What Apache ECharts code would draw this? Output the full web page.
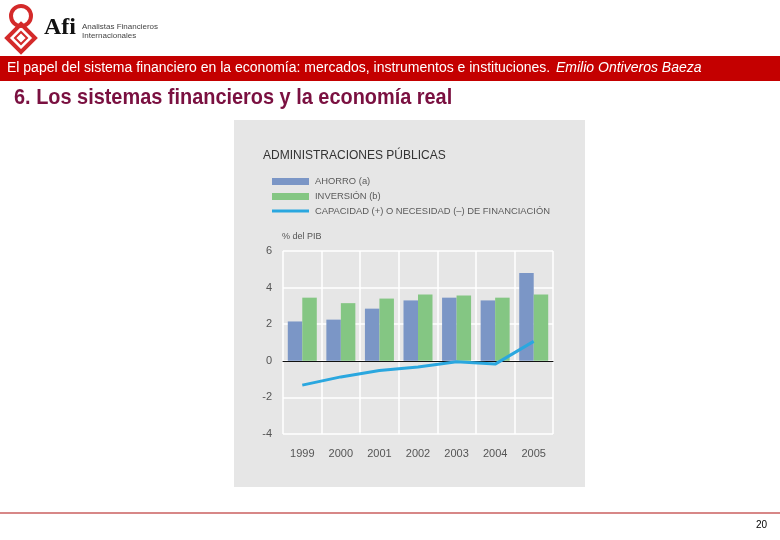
<!DOCTYPE html>
<html>
<head>
<meta charset="utf-8">
<script src="https://cdn.jsdelivr.net/npm/echarts@6/dist/echarts.min.js"></script>
<style>html,body{margin:0;padding:0;background:#fff}#c{width:780px;height:540px}</style>
</head>
<body>
<div id="c"></div>
<script>
const years = ['1999','2000','2001','2002','2003','2004','2005'];
const ahorro = [2.15, 2.25, 2.85, 3.3, 3.45, 3.3, 4.8];
const inversion = [3.45, 3.15, 3.4, 3.62, 3.57, 3.45, 3.62];
const capacidad = [-1.33, -0.88, -0.53, -0.34, -0.05, -0.18, 1.06];
const yTicks = [-4, -2, 0, 2, 4, 6];

const chart = echarts.init(document.getElementById('c'));
const BLUE = '#7b96c6', GREEN = '#84c683', LINE = '#2aa7df';
const legText = {fontFamily: 'Liberation Sans', fontSize: 9.4, color: '#5a5a5a', lineHeight: 11, padding: [0,0,0,1]};
const option = {
  animation: false,
  backgroundColor: '#ffffff',
  title: {
    text: 'ADMINISTRACIONES PÚBLICAS', left: 258, top: 145,
    textStyle: {fontFamily: 'Liberation Sans', fontSize: 12, fontWeight: 'normal', color: '#333'}
  },
  legend: [{
    orient: 'vertical', left: 272, top: 176, padding: 0, itemWidth: 37, itemHeight: 7, itemGap: 4,
    data: [{name: 'AHORRO (a)', icon: 'rect'}, {name: 'INVERSIÓN (b)', icon: 'rect'}],
    textStyle: legText
  }, {
    orient: 'vertical', left: 272, top: 205.5, padding: 0, itemWidth: 37, itemHeight: 3,
    data: [{name: 'CAPACIDAD (+) O NECESIDAD (–) DE FINANCIACIÓN', icon: 'rect'}],
    textStyle: legText
  }],
  grid: {left: 283, right: 227, top: 251, bottom: 106, containLabel: false},
  xAxis: {
    type: 'category', data: years,
    axisLine: {onZero: true, lineStyle: {color: '#111', width: 1}},
    axisTick: {show: false},
    axisLabel: {fontFamily: 'Liberation Sans', fontSize: 11, color: '#555', margin: 14},
    splitLine: {show: true, lineStyle: {color: '#ffffff', width: 1.5}}
  },
  yAxis: {
    type: 'value', min: yTicks[0], max: yTicks[yTicks.length-1], interval: 2,
    axisLine: {show: false}, axisTick: {show: false},
    axisLabel: {fontFamily: 'Liberation Sans', fontSize: 11, color: '#555', margin: 11},
    splitLine: {lineStyle: {color: '#ffffff', width: 1.5}}
  },
  graphic: [
    {type: 'rect', z: -10, shape: {x: 234, y: 120, width: 351, height: 367}, style: {fill: '#e6e6e6'}},
    {type: 'text', left: 282, top: 232, style: {text: '% del PIB', font: '9px "Liberation Sans"', fill: '#555'}},
    {type: 'rect', shape: {x: 0, y: 56, width: 780, height: 25}, style: {fill: '#c40000'}},
    {type: 'text', left: 7, top: 61, style: {text: 'El papel del sistema financiero en la economía: mercados, instrumentos e instituciones.', font: '14px "Liberation Sans"', fill: '#ffffff'}},
    {type: 'text', left: 556, top: 61, style: {text: 'Emilio Ontiveros Baeza', font: 'italic 14px "Liberation Sans"', fill: '#ffffff'}},
    {type: 'text', x: 14, y: 87, scaleX: 0.905, style: {text: '6. Los sistemas financieros y la economía real', font: 'bold 22px "Liberation Sans"', fill: '#7a1040'}},
    {type: 'line', shape: {x1: 0, y1: 513, x2: 780, y2: 513}, style: {stroke: '#b01010', lineWidth: 1.2}},
    {type: 'text', left: 756, top: 520, style: {text: '20', font: '10px "Liberation Sans"', fill: '#000'}},
    // logo
    {type: 'circle', shape: {cx: 21, cy: 16, r: 10}, style: {fill: 'none', stroke: '#d42a2a', lineWidth: 4}},
    {type: 'polygon', shape: {points: [[21,24],[35,38],[21,52],[7,38]]}, style: {fill: 'none', stroke: '#d42a2a', lineWidth: 4}},
    {type: 'polygon', shape: {points: [[21,32],[27,38],[21,44],[15,38]]}, style: {fill: 'none', stroke: '#d42a2a', lineWidth: 2}},
    {type: 'text', left: 44, top: 16, style: {text: 'Afi', font: 'bold 24px "Liberation Serif"', fill: '#111'}},
    {type: 'text', left: 82, top: 23, style: {text: 'Analistas Financieros', font: '8px "Liberation Sans"', fill: '#444'}},
    {type: 'text', left: 82, top: 32, style: {text: 'Internacionales', font: '8px "Liberation Sans"', fill: '#444'}}
  ],
  series: [
    {name: 'AHORRO (a)', type: 'bar', data: ahorro, barWidth: 14.5, barGap: '0%', itemStyle: {color: BLUE}},
    {name: 'INVERSIÓN (b)', type: 'bar', data: inversion, barWidth: 14.5, barGap: '0%', itemStyle: {color: GREEN}},
    {name: 'CAPACIDAD (+) O NECESIDAD (–) DE FINANCIACIÓN', type: 'line', data: capacidad, showSymbol: false, symbol: 'none',
     lineStyle: {color: LINE, width: 3}, itemStyle: {color: LINE}, z: 5}
  ]
};
chart.setOption(option);
</script>
</body>
</html>
